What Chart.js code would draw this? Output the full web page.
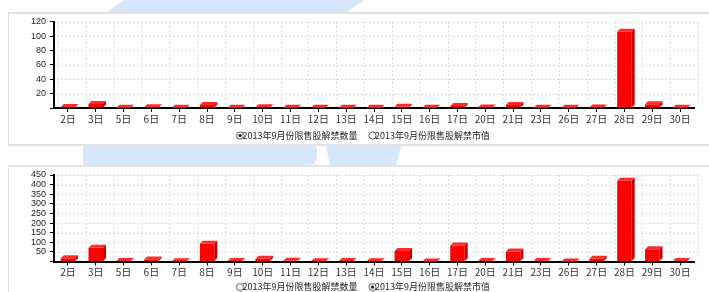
<!DOCTYPE html>
<html><head><meta charset="utf-8">
<script src="https://cdn.jsdelivr.net/npm/chart.js@4.4.0/dist/chart.umd.min.js"></script>
<style>
html,body{margin:0;padding:0;background:#fff;overflow:hidden;width:709px;height:292px;position:relative}
.deco{position:absolute;background:#d6e7fb}
.panel{position:absolute;box-sizing:border-box;border-color:#e2e2e2;border-style:solid}
canvas{position:absolute}
</style></head><body>
<div class="deco" style="left:100px;top:0;width:270px;height:12px;clip-path:polygon(24px 0,264px 0,247px 12px,7px 12px)"></div>
<div class="deco" style="left:83px;top:146px;width:234px;height:19px;border-bottom-right-radius:8px;border-top-right-radius:4px"></div>
<div class="deco" style="left:320px;top:146px;width:85px;height:20px;clip-path:polygon(6px 0,81px 0,76px 20px,10px 20px)"></div>
<div class="panel" style="left:8px;top:12px;width:710px;height:134px;border-width:2px 0 2px 1px;background:#fff"></div>
<div class="panel" style="left:8px;top:165px;width:710px;height:140px;border-width:2px 0 0 1px;background:#fff"></div>
<canvas id="c1" width="703" height="140" style="left:8px;top:12px"></canvas>
<canvas id="c2" width="703" height="137" style="left:8px;top:166px"></canvas>
<script>
const categories = ['2日','3日','5日','6日','7日','8日','9日','10日','11日','12日','13日','14日','15日','16日','17日','20日','21日','23日','26日','27日','28日','29日','30日'];
const seriesNames = ['2013年9月份限售股解禁数量','2013年9月份限售股解禁市值'];
const quantity = [1.5,5.6,0.3,1,0.3,4.2,0.3,1,0.5,0.2,0.2,0.3,1.6,0.2,2.8,0.6,4.2,0.4,0.2,0.6,106,5.1,0.5];
const marketValue = [17,71,2,10,1,92,2,14,4,1,2,1,54,0.5,83,2,52,3,0.5,14,420,64,3];
const quantityTicks = [0,20,40,60,80,100,120];
const valueTicks = [0,50,100,150,200,250,300,350,400,450];

const DEPTH = 3;
const BOXW = 18;
function radio(selected){
  const c = document.createElement('canvas'); c.width = BOXW + 4; c.height = 9;
  const g = c.getContext('2d');
  const cx = c.width - 4.5, cy = 4.5;
  g.beginPath(); g.arc(cx,cy,3.6,0,Math.PI*2); g.fillStyle='#fff'; g.fill();
  g.lineWidth = 1; g.strokeStyle = '#555'; g.stroke();
  if (selected){ g.beginPath(); g.arc(cx,cy,1.6,0,Math.PI*2); g.fillStyle='#111'; g.fill(); }
  return c;
}
const bar3d = {
  id:'bar3d',
  beforeDatasetsDraw(chart){
    const {ctx, chartArea:{left,right,top,bottom}, scales:{x,y}} = chart;
    ctx.save();
    ctx.strokeStyle = '#dedede'; ctx.lineWidth = 1; ctx.setLineDash([2,2]);
    const step = x.getPixelForValue(1) - x.getPixelForValue(0);
    for (let i = 0; i <= categories.length; i++){
      const px = Math.round(x.getPixelForValue(i) - step/2 + DEPTH + 1) + 0.5;
      ctx.beginPath(); ctx.moveTo(px, top); ctx.lineTo(px, bottom - 1); ctx.stroke();
    }
    y.ticks.forEach(t => {
      if (t.value === 0) return;
      const py = Math.round(y.getPixelForValue(t.value)) + 0.5;
      ctx.beginPath(); ctx.moveTo(left + DEPTH, py); ctx.lineTo(right + DEPTH + 1, py); ctx.stroke();
    });
    ctx.restore();
  },
  afterDatasetsDraw(chart){
    const ctx = chart.ctx;
    chart.data.datasets.forEach((ds, i) => {
      if (!chart.isDatasetVisible(i)) return;
      chart.getDatasetMeta(i).data.forEach(el => {
        const {x, y, base, width} = el.getProps(['x','y','base','width'], true);
        const l = x - width/2, r = x + width/2, d = DEPTH;
        ctx.save();
        ctx.fillStyle = '#ff2a2a';
        ctx.beginPath(); ctx.moveTo(l, y); ctx.lineTo(l + d, y - d); ctx.lineTo(r + d, y - d); ctx.lineTo(r, y); ctx.closePath(); ctx.fill();
        ctx.fillStyle = '#bf0000';
        ctx.beginPath(); ctx.moveTo(r, y); ctx.lineTo(r + d, y - d); ctx.lineTo(r + d, base - d); ctx.lineTo(r, base); ctx.closePath(); ctx.fill();
        ctx.restore();
      });
    });
  }
};

function makeChart(id, shownIndex, ticksArr, padTop, padBottom, xHeight){
  const maxV = ticksArr[ticksArr.length-1];
  const step = ticksArr[1] - ticksArr[0];
  return new Chart(document.getElementById(id), {
    type: 'bar',
    data: {
      labels: categories,
      datasets: [
        {label: seriesNames[0], data: quantity, hidden: shownIndex !== 0},
        {label: seriesNames[1], data: marketValue, hidden: shownIndex !== 1}
      ].map(d => Object.assign(d, {backgroundColor:'#ff0000', borderWidth:0, barPercentage:0.52, categoryPercentage:1, yAxisID:'y'}))
    },
    options: {
      responsive:false, animation:false, devicePixelRatio:1, events:[],
      layout:{padding:{top:padTop, bottom:padBottom, left:0, right:0}},
      plugins:{
        tooltip:{enabled:false},
        legend:{
          position:'bottom',
          labels:{
            usePointStyle:true, boxWidth:BOXW, boxHeight:9, padding:4,
            font:{size:9, family:'"Noto Sans CJK SC", sans-serif'}, color:'#222',
            generateLabels(chart){
              return seriesNames.map((n, i) => ({
                text:n, datasetIndex:i, hidden:false, pointStyle:radio(i === shownIndex),
                fillStyle:'rgba(0,0,0,0)', strokeStyle:'rgba(0,0,0,0)', lineWidth:0, fontColor:'#222'
              }));
            }
          }
        }
      },
      scales:{
        x:{
          grid:{display:true, drawOnChartArea:false, offset:false, tickLength:4, tickColor:'#000', tickWidth:1},
          border:{display:true, color:'#000', width:2},
          ticks:{font:{size:10, family:'"Noto Sans CJK SC", sans-serif'}, color:'#333', padding:1, autoSkip:false, maxRotation:0},
          afterFit(s){ s.height = xHeight; }
        },
        y:{
          min:0, max:maxV,
          grid:{display:true, drawOnChartArea:false, tickLength:4, tickColor:'#000', tickWidth:1},
          border:{display:true, color:'#000', width:2},
          ticks:{stepSize:step, autoSkip:false, font:{size:9, lineHeight:1, family:'"Liberation Sans", Arial, sans-serif'}, color:'#222', padding:4,
                 callback:v => v === 0 ? '' : v},
          afterFit(s){ s.width = 46; }
        },
        spacer:{
          type:'linear', position:'right', display:true,
          grid:{display:false}, border:{display:false}, ticks:{display:false},
          afterFit(s){ s.width = 17; }
        }
      }
    },
    plugins:[bar3d]
  });
}
makeChart('c1', 0, quantityTicks, 9.7, 2, 19);
makeChart('c2', 1, valueTicks, 9, 1.5, 17);
</script>
</body></html>
